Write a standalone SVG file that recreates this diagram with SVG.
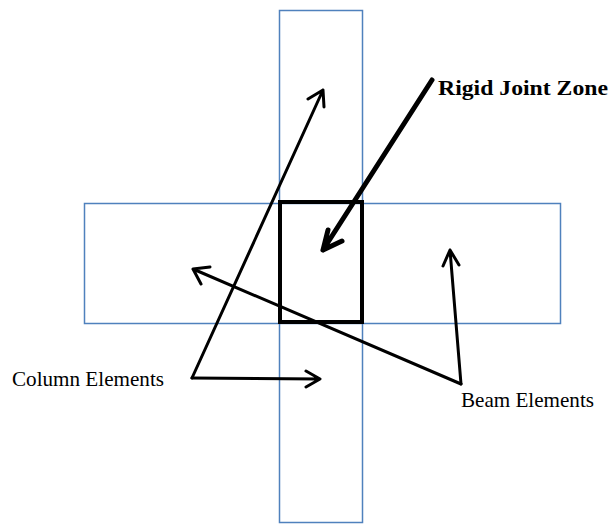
<svg xmlns="http://www.w3.org/2000/svg" width="610" height="527" viewBox="0 0 610 527">
<style>
.el{fill:none;stroke:#4f81bd;stroke-width:1.5}
.ar{fill:none;stroke:#000;stroke-width:3;stroke-linecap:round;stroke-linejoin:round}
.lb{font-family:"Liberation Serif",serif;font-size:21px;fill:#000}
</style>
<g id="column"><rect class="el" x="279.5" y="10.5" width="83" height="512"/></g>
<g id="beam"><rect class="el" x="84.5" y="203.5" width="476" height="120"/></g>
<g id="joint"><rect x="280" y="202" width="82" height="120" fill="none" stroke="#000" stroke-width="4"/></g>
<g id="connectors">
<path class="ar" d="M192,378 L323,90 M308,99 L323,90 L324,107"/>
<path class="ar" d="M192,378 L320,379 M306,371 L320,379 L306,387"/>
<path class="ar" d="M461,384 L450,250 M443,266 L450,250 L459,265"/>
<path class="ar" d="M461,384 L193,269 M201,284 L193,269 L210,267"/>
<path d="M432,80 L323,250 M328,230 L323,250 L342,241" fill="none" stroke="#000" stroke-width="5" stroke-linecap="round" stroke-linejoin="round"/>
</g>
<g id="labels">
<text x="438" y="95" font-family="Liberation Serif,serif" font-size="22" font-weight="bold" textLength="170" lengthAdjust="spacingAndGlyphs">Rigid Joint Zone</text>
<text class="lb" x="12" y="386" textLength="152" lengthAdjust="spacingAndGlyphs">Column Elements</text>
<text class="lb" x="461" y="407" textLength="133" lengthAdjust="spacingAndGlyphs">Beam Elements</text>
</g>
</svg>
